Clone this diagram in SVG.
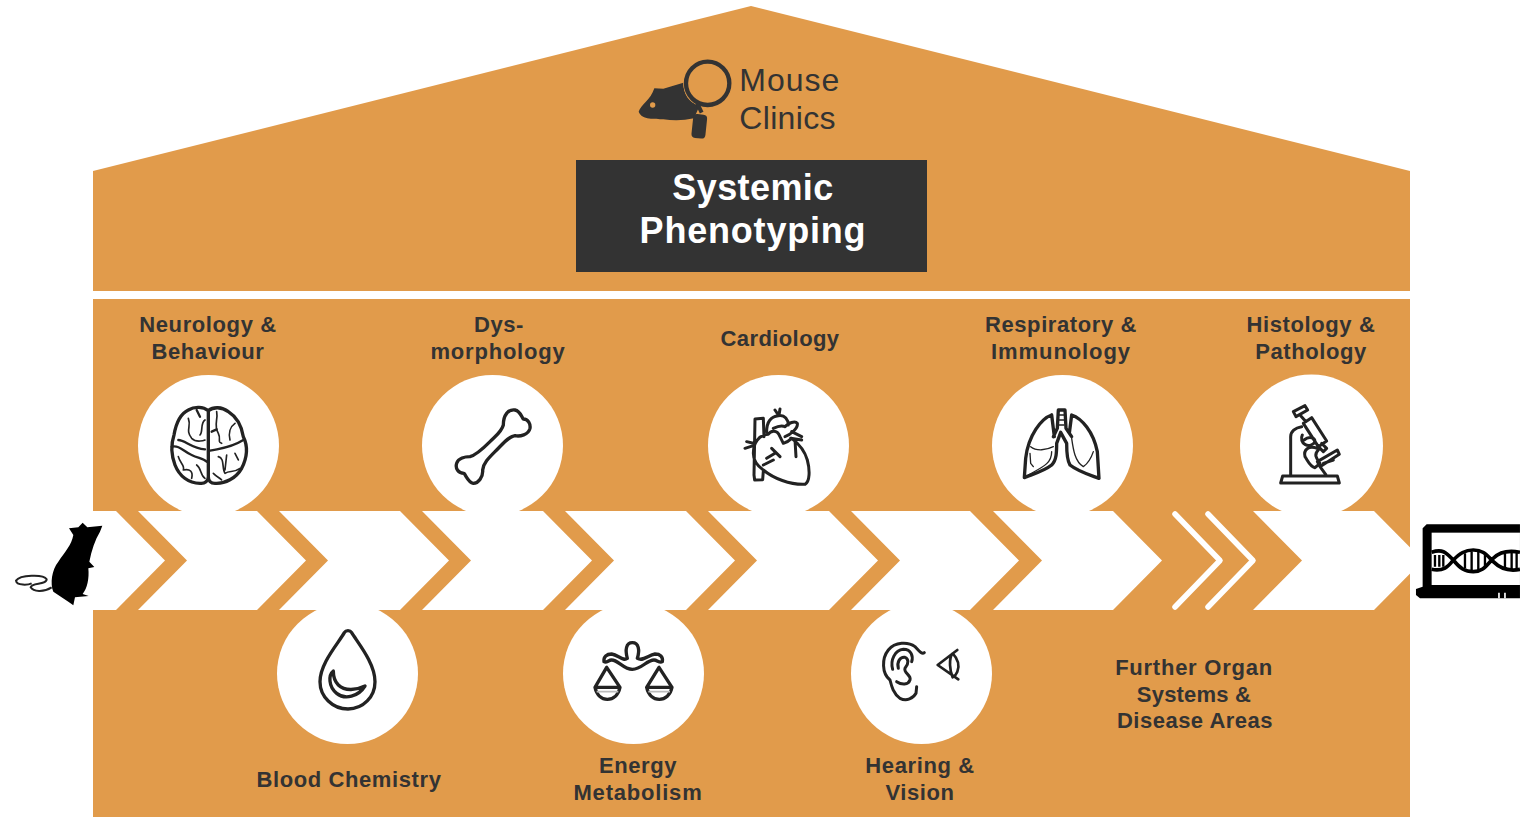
<svg xmlns="http://www.w3.org/2000/svg" width="1520" height="817" viewBox="0 0 1520 817">
<style>
.bg{fill:#e19b4b}
.chev{fill:#fff}
.c{fill:#fff}
text{font-family:"Liberation Sans",Arial,sans-serif}
.l{font-size:22px;font-weight:700;fill:#333;text-anchor:middle;letter-spacing:.6px}
.t{font-size:36px;font-weight:700;fill:#fff;text-anchor:middle;letter-spacing:.6px}
.m{fill:#333}
.i{fill:none;stroke:#222;stroke-width:10;stroke-linecap:round;stroke-linejoin:round}
.f{fill:none;stroke:#222;stroke-width:5;stroke-linecap:round;stroke-linejoin:round}
</style>
<rect width="1520" height="817" fill="#fff"/>
<g id="house">
<polygon class="bg" points="93,171 751,6 1410,171 1410,291 93,291"/>
<rect class="bg" x="93" y="299" width="1317" height="518"/>
</g>
<g id="mouse-clinics" transform="translate(620,50) scale(.3333)">
<path fill="#333" d="M56,185C62,165 92,150 103,115L130,116L190,98C190,130 205,160 240,165L222,205C190,212 160,212 130,208C105,205 66,212 56,185Z"/>
<circle cx="98" cy="165" r="8" fill="#e19b4b"/>
<circle cx="263" cy="100" r="73" fill="#e19b4b"/>
<circle cx="263" cy="100" r="65" fill="none" stroke="#333" stroke-width="13"/>
<rect x="217" y="193" width="42" height="72" rx="12" fill="#333" transform="rotate(6 238 228)"/>
<path d="M232,160L245,188" stroke="#333" stroke-width="12"/>
<text class="m" x="358" y="123" style="font-size:96px;letter-spacing:3px">Mouse</text>
<text class="m" x="358" y="237" style="font-size:96px;letter-spacing:1px">Clinics</text>
</g>
<g id="title">
<rect x="576" y="160" width="351" height="112" fill="#333"/>
<text class="t" x="753" y="200" style="letter-spacing:.4px">Systemic</text>
<text class="t" x="753" y="243" style="letter-spacing:.8px">Phenotyping</text>
</g>
<g id="circles">
<circle class="c" cx="208.5" cy="445.5" r="70.5"/>
<circle class="c" cx="492.5" cy="445.5" r="70.5"/>
<circle class="c" cx="778.5" cy="445.5" r="70.5"/>
<circle class="c" cx="1062.5" cy="445.5" r="70.5"/>
<circle class="c" cx="1311.5" cy="446" r="71.5"/>
<circle class="c" cx="347.5" cy="673.5" r="70.5"/>
<circle class="c" cx="633.5" cy="673.5" r="70.5"/>
<circle class="c" cx="921.5" cy="673.5" r="70.5"/>
</g>
<g id="connectors">
<polygon class="chev" points="93,511 116,511 165,560.5 116,610 93,610"/>
<polygon class="chev" points="138,511 257,511 306,560.5 257,610 138,610 187,560.5"/>
<polygon class="chev" points="279,511 400,511 449,560.5 400,610 279,610 328,560.5"/>
<polygon class="chev" points="422,511 543,511 592,560.5 543,610 422,610 471,560.5"/>
<polygon class="chev" points="565,511 686,511 735,560.5 686,610 565,610 614,560.5"/>
<polygon class="chev" points="708,511 829,511 878,560.5 829,610 708,610 757,560.5"/>
<polygon class="chev" points="851,511 970,511 1019,560.5 970,610 851,610 900,560.5"/>
<polygon class="chev" points="993,511 1113,511 1162,560.5 1113,610 993,610 1042,560.5"/>
<polyline points="1175,514 1220,560.5 1175,607" fill="none" stroke="#fff" stroke-width="5.5" stroke-linecap="round" stroke-linejoin="round"/>
<polyline points="1208,514 1253,560.5 1208,607" fill="none" stroke="#fff" stroke-width="5.5" stroke-linecap="round" stroke-linejoin="round"/>
<polygon class="chev" points="1253,511 1374,511 1423,560.5 1374,610 1253,610 1302,560.5"/>
</g>
<g id="start-mouse" transform="translate(0,490) scale(.3333)">
<path fill="#000" d="M207,115L235,112L248,98L262,112L307,107L300,125C285,150 275,180 268,215L283,231L265,235C268,265 262,295 248,312L266,318L225,322L220,346L205,335L160,305C150,280 155,240 175,215C195,185 215,165 220,135Z"/>
<path fill="none" stroke="#222" stroke-width="6" d="M155,292C130,308 100,305 92,292C95,278 140,285 140,268C130,252 60,255 48,272C50,288 85,285 95,280"/>
</g>
<g id="sequencing-laptop" transform="translate(1150,490) scale(.3333)">
<path fill="#000" d="M830,103H1110V325H810L798,315V297L818,290V115Z"/>
<rect x="845" y="128" width="265" height="157" fill="#fff"/>
<path fill="none" stroke="#000" stroke-width="11" d="M845,187C880,175 890,190 910,210C930,235 945,245 970,245C1000,245 1010,225 1030,205C1050,185 1075,180 1110,187M845,238C880,245 895,230 910,210C930,190 945,180 970,180C1000,180 1010,195 1030,215C1050,235 1075,245 1110,238"/>
<path stroke="#000" stroke-width="7" d="M855,195V230M868,195V230M880,195V230M945,190V235M965,185V240M985,185V240M1005,195V230M1065,190V235M1085,185V240M1100,185V240"/>
<path stroke="#fff" stroke-width="5" d="M1047,308V325M1065,308V325"/>
</g>
<g id="neurology">
<text class="l" x="208" y="332">Neurology &amp;</text><text class="l" x="208" y="359">Behaviour</text>
<g transform="translate(150,390) scale(.3333)">
<path class="i" d="M175,62C160,50 135,48 115,60C90,72 78,100 72,135C62,165 62,190 75,225C88,258 115,280 150,280C165,282 175,272 175,260ZM175,62C190,50 215,50 235,65C262,82 275,110 280,140C295,170 290,205 275,235C258,265 225,282 195,280C182,280 175,272 175,260Z"/>
<path class="i" style="stroke-width:7" d="M65,170C90,165 100,185 125,195C145,205 160,205 170,215M85,150C105,150 125,175 165,178M180,182C210,175 240,175 280,150M185,125L200,118M140,60L150,80"/>
<path class="f" d="M115,85C125,110 105,120 125,145C140,160 165,150 165,150M165,90C150,100 160,125 150,135M200,65C205,90 190,105 205,130C215,150 200,155 215,160M255,100C240,110 235,130 240,150M85,200C90,220 105,225 100,240C120,235 130,245 125,265M140,225C155,235 150,255 165,265M205,200C225,205 215,235 225,250C240,240 250,250 270,235M190,250C200,260 210,265 215,270M255,190L265,210M230,195L225,240"/>
</g></g>
<g id="dysmorphology">
<text class="l" x="499" y="332">Dys-</text><text class="l" x="498" y="359" style="letter-spacing:.8px">morphology</text>
<path class="i" transform="translate(440,395) scale(.3333)" d="M190,90C190,60 205,42 225,45C240,48 245,65 250,72C265,72 272,88 270,100C265,120 240,125 225,122C205,125 190,145 165,170C145,190 130,205 128,225C130,245 115,265 100,265C85,262 80,245 72,235C55,235 45,220 50,205C55,190 75,185 90,185C110,180 130,160 150,140C170,120 185,110 190,90Z"/>
</g>
<g id="cardiology">
<text class="l" x="780" y="346" style="letter-spacing:.4px">Cardiology</text>
<g transform="translate(720,395) scale(.3333)">
<path class="i" style="stroke-width:9" d="M102,240L105,72L130,70L132,125M102,240L104,255L128,254L130,228M75,160L100,152M80,140L100,145M140,110C140,85 150,65 175,62C195,58 205,75 205,90M165,45L175,60M180,42L177,60M160,100C170,95 185,90 195,95M195,95C205,85 225,75 232,85C235,100 210,120 195,125M215,110L245,125M212,130L245,135M190,145L180,125C170,100 150,110 145,118C115,120 100,145 100,175C100,200 115,215 130,225C160,250 210,270 255,268C270,260 270,225 262,195C255,170 235,145 215,130C205,140 190,145 190,145ZM140,190L165,175M130,210L160,195M155,160L180,185M225,135L228,185"/>
</g></g>
<g id="respiratory">
<text class="l" x="1061" y="332">Respiratory &amp;</text><text class="l" x="1061" y="359" style="letter-spacing:.9px">Immunology</text>
<g transform="translate(1010,395) scale(.3333)">
<path class="i" d="M145,45H165L168,100L185,125M145,45L142,100L130,125M125,60C95,70 55,120 47,190L43,248C60,240 100,230 125,210C140,195 140,170 140,145L152,112L170,145C170,170 170,195 180,210C205,230 240,240 267,250L262,170C250,110 215,70 185,60L178,115M125,60L133,125"/>
<path class="f" style="stroke-width:4" d="M148,60H162M148,75H162M148,90H162M62,155C80,170 110,165 130,155M60,175L62,205L70,215M125,170C125,205 100,215 55,240M185,130C190,165 195,200 220,215C235,205 245,185 250,170"/>
</g></g>
<g id="histology">
<text class="l" x="1311" y="332">Histology &amp;</text><text class="l" x="1311" y="359">Pathology</text>
<g transform="translate(1260,395) scale(.3333)">
<path class="i" style="stroke-width:9" d="M100,50L135,32L143,45L108,65ZM122,62L138,80M130,85L155,68L200,138L175,155ZM175,155L190,170L200,160L185,145M92,240V125C92,110 105,98 125,95M132,135C150,120 165,130 165,140A20,20 0 1 1 127,120M172,160C145,150 130,165 135,185C145,200 150,215 165,218L180,205C170,190 160,180 175,165M172,200L232,165L238,178L180,215ZM190,205L220,195M180,215L198,240M68,243H232L238,264H62Z"/>
</g></g>
<g id="blood">
<text class="l" x="349" y="787">Blood Chemistry</text>
<g transform="translate(300,620) scale(.3333)">
<path class="i" d="M133,38C138,30 150,30 155,38C175,70 225,130 225,185C225,230 190,267 144,267C98,267 60,230 60,185C60,130 115,70 133,38Z"/>
<path class="i" d="M100,153C85,165 85,200 110,220C135,240 175,230 195,198C170,210 135,215 115,195C100,180 100,165 100,153Z"/>
</g></g>
<g id="energy">
<text class="l" x="638" y="773">Energy</text><text class="l" x="638" y="800" style="letter-spacing:.8px">Metabolism</text>
<g transform="translate(580,630) scale(.3333)">
<path class="i" d="M142,85C135,60 138,38 157,38C176,38 180,60 172,85M142,85C130,95 115,75 95,72C80,72 70,80 72,95C80,100 85,90 95,90C115,90 130,118 157,118C185,118 200,90 222,90C232,90 238,100 247,95C250,80 240,72 225,72C205,75 190,95 172,85M80,112L45,172H120ZM237,112L200,172H276ZM45,172C50,195 65,208 82,208C100,208 115,195 120,172M200,172C205,195 220,208 238,208C255,208 272,195 276,172"/>
<path d="M50,185H115M205,185H270" stroke="#bbb" stroke-width="5"/>
</g></g>
<g id="hearing">
<text class="l" x="920" y="773">Hearing &amp;</text><text class="l" x="920" y="800">Vision</text>
<g transform="translate(870,630) scale(.3333)">
<path class="i" style="stroke-width:9" d="M163,68C155,75 145,60 135,50C115,35 75,35 55,60C35,85 35,130 60,150C65,170 70,190 90,205C110,215 130,205 138,190L140,170M68,118C60,90 75,60 100,58C125,58 130,80 125,95M85,115C80,95 90,80 105,82C115,85 118,100 105,115C100,130 125,135 120,150C115,165 95,165 80,155"/>
<path class="i" style="stroke-width:8" d="M262,60L203,105L265,148M248,70C262,85 270,105 262,125C258,135 252,140 248,142C240,125 235,85 248,70Z"/>
</g></g>
<g id="further">
<text class="l" x="1194" y="675" style="letter-spacing:.75px">Further Organ</text><text class="l" x="1194" y="702" style="letter-spacing:.2px">Systems &amp;</text><text class="l" x="1195" y="728" style="letter-spacing:.5px">Disease Areas</text>
</g>
</svg>
